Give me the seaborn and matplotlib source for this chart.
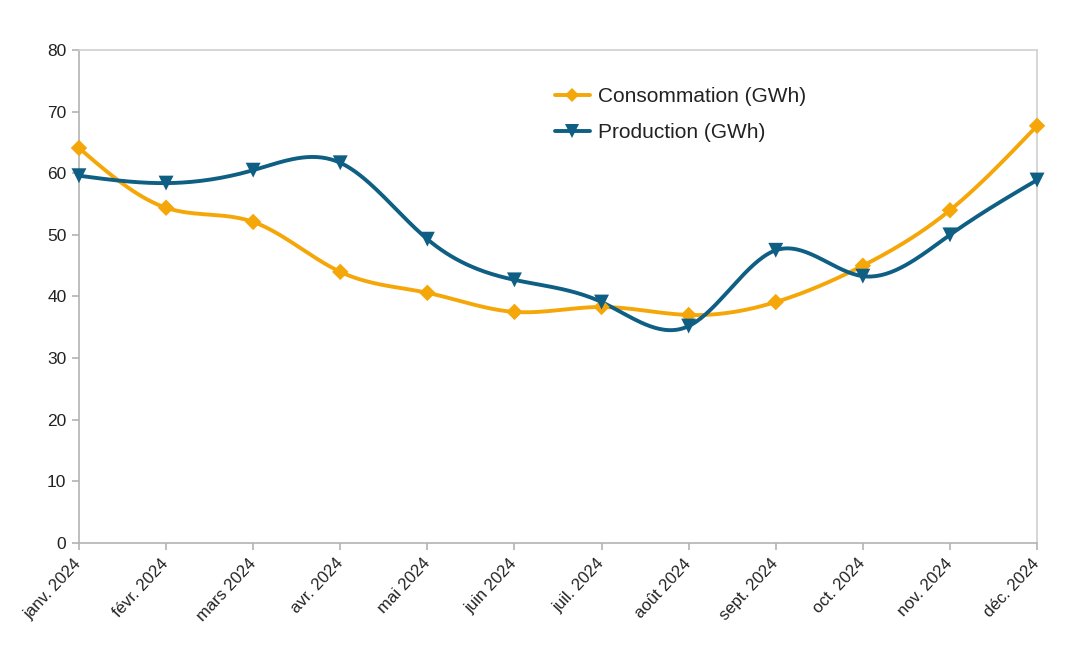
import numpy as np
import pandas as pd
import seaborn as sns
import matplotlib.pyplot as plt
from matplotlib.lines import Line2D

months = ['janv. 2024', 'févr. 2024', 'mars 2024', 'avr. 2024', 'mai 2024', 'juin 2024',
          'juil. 2024', 'août 2024', 'sept. 2024', 'oct. 2024', 'nov. 2024', 'déc. 2024']
consommation = [64.1, 54.4, 52.1, 44.0, 40.6, 37.5, 38.3, 37.0, 39.1, 45.0, 54.0, 67.7]
production = [59.6, 58.4, 60.5, 61.7, 49.3, 42.7, 39.1, 35.2, 47.5, 43.3, 50.0, 58.9]

ORANGE = '#f5a70a'
BLUE = '#0e5f83'
GREY = '#b3b3b3'


def natural_spline(x, y, n=400):
    # natural cubic spline, same look as the office "cubic spline" line type
    x = np.asarray(x, float)
    y = np.asarray(y, float)
    k = len(x)
    h = np.diff(x)
    A = np.zeros((k, k))
    b = np.zeros(k)
    A[0, 0] = A[-1, -1] = 1
    for i in range(1, k - 1):
        A[i, i - 1] = h[i - 1]
        A[i, i] = 2 * (h[i - 1] + h[i])
        A[i, i + 1] = h[i]
        b[i] = 3 * ((y[i + 1] - y[i]) / h[i] - (y[i] - y[i - 1]) / h[i - 1])
    c = np.linalg.solve(A, b)
    xs = np.linspace(x[0], x[-1], n)
    idx = np.clip(np.searchsorted(x, xs) - 1, 0, k - 2)
    dx = xs - x[idx]
    bb = (y[idx + 1] - y[idx]) / h[idx] - h[idx] * (2 * c[idx] + c[idx + 1]) / 3
    d = (c[idx + 1] - c[idx]) / (3 * h[idx])
    return xs, y[idx] + bb * dx + c[idx] * dx ** 2 + d * dx ** 3


sns.set_theme(style='white')
plt.rcParams['font.family'] = ['Liberation Sans', 'DejaVu Sans']

fig = plt.figure(figsize=(10.7, 6.52), dpi=100)
ax = fig.add_axes([0.0738, 0.1672, 0.8954, 0.7561])

pos = np.arange(len(months))
df = pd.DataFrame({'pos': np.concatenate([pos, pos]),
                   'value': consommation + production,
                   'serie': ['Consommation (GWh)'] * 12 + ['Production (GWh)'] * 12})

for values, color in [(consommation, ORANGE), (production, BLUE)]:
    xs, ys = natural_spline(pos, values)
    ax.plot(xs, ys, color=color, lw=2.8, solid_capstyle='round', zorder=2)

cons = df[df['serie'] == 'Consommation (GWh)']
prod = df[df['serie'] == 'Production (GWh)']
sns.scatterplot(data=cons, x='pos', y='value', color=ORANGE, marker='D',
                s=70, edgecolor='none', legend=False, ax=ax, zorder=3, clip_on=False)
sns.scatterplot(data=prod, x='pos', y='value', color=BLUE, marker='v',
                s=115, edgecolor='none', legend=False, ax=ax, zorder=3, clip_on=False)

ax.set_xlim(0, 11)
ax.set_ylim(0, 80)
ax.set_yticks(range(0, 81, 10))
ax.set_xticks(pos)
ax.set_xticklabels(months, rotation=47, ha='right', va='center', rotation_mode='anchor')
ax.set_xlabel('')
ax.set_ylabel('')

for side in ['left', 'bottom', 'top', 'right']:
    ax.spines[side].set_visible(True)
    ax.spines[side].set_color(GREY)
    ax.spines[side].set_linewidth(1.2)
ax.spines['top'].set_color('#d0d0d0')
ax.spines['right'].set_color('#d0d0d0')

ax.tick_params(axis='both', which='major', length=5, width=1.2, color=GREY,
               labelcolor='#222222', direction='out', left=True, bottom=True)
ax.tick_params(axis='y', pad=4, labelsize=12.5)
ax.tick_params(axis='x', pad=8, labelsize=12)

handles = [Line2D([], [], color=ORANGE, lw=2.8, marker='D', markersize=7.5,
                  markeredgewidth=0),
           Line2D([], [], color=BLUE, lw=2.8, marker='v', markersize=9.5,
                  markeredgewidth=0)]
ax.legend(handles, ['Consommation (GWh)', 'Production (GWh)'], frameon=False,
          fontsize=15, loc='upper left', bbox_to_anchor=(0.477, 0.962),
          handlelength=1.7, handletextpad=0.4, labelspacing=0.8,
          labelcolor='#222222')

fig.savefig('out.png', dpi=100, facecolor='white')
